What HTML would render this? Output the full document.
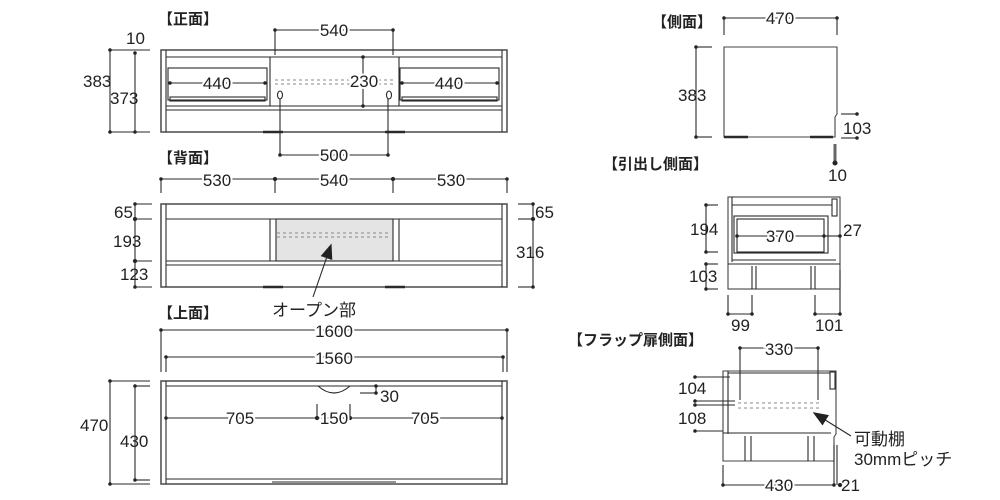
<!DOCTYPE html><html><head><meta charset="utf-8"><style>body{margin:0;background:#fff}svg{display:block}text{font-family:"Liberation Sans","Noto Sans CJK JP",sans-serif;fill:#222}</style></head><body>
<svg width="1000" height="500" viewBox="0 0 1000 500" xmlns="http://www.w3.org/2000/svg">
<defs><marker id="d" viewBox="0 0 4 4" refX="2" refY="2" markerWidth="4" markerHeight="4"><circle cx="2" cy="2" r="1.6" fill="#222"/></marker>
<marker id="a" viewBox="0 0 10 10" refX="9" refY="5" markerWidth="14" markerHeight="14" orient="auto"><path d="M0,1 L10,5 L0,9 z" fill="#222"/></marker></defs>
<g stroke="#2a2a2a" stroke-width="1.1" fill="none">
<!-- FRONT -->
<rect x="161" y="50" width="346" height="82" stroke="#555" stroke-width="1.6"/>
<line x1="166" y1="50" x2="166" y2="132"/><line x1="502" y1="50" x2="502" y2="132"/>
<line x1="166" y1="57" x2="502" y2="57"/>
<rect x="168" y="68" width="99" height="32"/><rect x="170" y="97" width="95" height="4"/>
<rect x="400" y="68" width="99" height="32"/><rect x="402" y="97" width="95" height="4"/>
<line x1="270" y1="57" x2="270" y2="106"/><line x1="399" y1="57" x2="399" y2="106"/>
<line x1="166" y1="106" x2="502" y2="106"/><line x1="166" y1="110" x2="502" y2="110"/>
<line x1="263" y1="132" x2="283" y2="132" stroke-width="2.5"/><line x1="385" y1="132" x2="405" y2="132" stroke-width="2.5"/>
<line x1="275" y1="80" x2="350" y2="80" stroke-dasharray="3,3" stroke="#888"/><line x1="275" y1="84" x2="350" y2="84" stroke-dasharray="3,3" stroke="#888"/>
<line x1="378" y1="80" x2="393" y2="80" stroke-dasharray="3,3" stroke="#888"/><line x1="378" y1="84" x2="393" y2="84" stroke-dasharray="3,3" stroke="#888"/>
<ellipse cx="280" cy="95" rx="2.5" ry="4"/><ellipse cx="389" cy="95" rx="2.5" ry="4"/>
<line x1="275" y1="30" x2="275" y2="55"/><line x1="393" y1="30" x2="393" y2="55"/>
<line x1="275" y1="30" x2="393" y2="30" marker-start="url(#d)" marker-end="url(#d)"/>
<line x1="363" y1="57" x2="363" y2="106" marker-start="url(#d)" marker-end="url(#d)"/>
<line x1="170" y1="83" x2="265" y2="83" marker-start="url(#d)" marker-end="url(#d)"/>
<line x1="402" y1="83" x2="497" y2="83" marker-start="url(#d)" marker-end="url(#d)"/>
<line x1="280" y1="99" x2="280" y2="155"/><line x1="388" y1="99" x2="388" y2="155"/>
<line x1="280" y1="155" x2="388" y2="155" marker-start="url(#d)" marker-end="url(#d)"/>
<line x1="110" y1="50" x2="110" y2="132" marker-start="url(#d)" marker-end="url(#d)"/>
<line x1="135" y1="53" x2="135" y2="132" marker-start="url(#d)" marker-end="url(#d)"/>
<line x1="110" y1="50" x2="150" y2="50"/><line x1="110" y1="132" x2="150" y2="132"/>
<!-- BACK -->
<rect x="161" y="204" width="346" height="83" stroke="#555" stroke-width="1.6"/>
<line x1="166" y1="204" x2="166" y2="287"/><line x1="502" y1="204" x2="502" y2="287"/>
<line x1="166" y1="219" x2="502" y2="219"/><line x1="166" y1="261" x2="502" y2="261"/><line x1="166" y1="265" x2="502" y2="265"/>
<rect x="276" y="219" width="117" height="42" fill="#e4e4e4"/>
<line x1="270" y1="219" x2="270" y2="261"/><line x1="399" y1="219" x2="399" y2="261"/>
<line x1="277" y1="233" x2="390" y2="233" stroke-dasharray="3,3" stroke="#888"/><line x1="277" y1="237" x2="390" y2="237" stroke-dasharray="3,3" stroke="#888"/>
<line x1="263" y1="287" x2="283" y2="287" stroke-width="2.5"/><line x1="385" y1="287" x2="405" y2="287" stroke-width="2.5"/>
<line x1="161" y1="179" x2="507" y2="179" marker-start="url(#d)" marker-end="url(#d)"/>
<line x1="275" y1="179" x2="275" y2="193"/><line x1="393" y1="179" x2="393" y2="193"/><line x1="161" y1="179" x2="161" y2="193"/><line x1="507" y1="179" x2="507" y2="193"/>
<circle cx="275" cy="179" r="1.6" fill="#222"/><circle cx="393" cy="179" r="1.6" fill="#222"/>
<line x1="135" y1="204" x2="135" y2="287" marker-start="url(#d)" marker-end="url(#d)"/>
<circle cx="135" cy="219" r="1.6" fill="#222"/><circle cx="135" cy="261" r="1.6" fill="#222"/>
<line x1="135" y1="204" x2="152" y2="204"/><line x1="135" y1="219" x2="152" y2="219"/><line x1="135" y1="261" x2="152" y2="261"/><line x1="135" y1="287" x2="152" y2="287"/>
<line x1="533" y1="204" x2="533" y2="287" marker-start="url(#d)" marker-end="url(#d)"/><circle cx="533" cy="219" r="1.6" fill="#222"/>
<line x1="518" y1="204" x2="533" y2="204"/><line x1="518" y1="219" x2="533" y2="219"/><line x1="518" y1="287" x2="533" y2="287"/>
<line x1="313" y1="297" x2="331" y2="245" marker-end="url(#a)"/>
<!-- TOP -->
<rect x="161" y="381" width="346" height="103" stroke="#555" stroke-width="1.6"/>
<line x1="166" y1="381" x2="166" y2="484"/><line x1="502" y1="381" x2="502" y2="484"/>
<line x1="166" y1="386" x2="502" y2="386"/><line x1="166" y1="479" x2="502" y2="479"/><line x1="272" y1="482" x2="396" y2="482"/>
<path d="M318,386 Q334,400 350,386"/>
<line x1="161" y1="330" x2="507" y2="330" marker-start="url(#d)" marker-end="url(#d)"/>
<line x1="161" y1="330" x2="161" y2="372"/><line x1="507" y1="330" x2="507" y2="372"/>
<line x1="166" y1="357" x2="503" y2="357" marker-start="url(#d)" marker-end="url(#d)"/>
<line x1="166" y1="357" x2="166" y2="372"/><line x1="503" y1="357" x2="503" y2="372"/>
<line x1="110" y1="381" x2="110" y2="484" marker-start="url(#d)" marker-end="url(#d)"/>
<line x1="135" y1="386" x2="135" y2="480" marker-start="url(#d)" marker-end="url(#d)"/>
<line x1="110" y1="381" x2="150" y2="381"/><line x1="135" y1="386" x2="150" y2="386"/><line x1="135" y1="480" x2="150" y2="480"/><line x1="110" y1="484" x2="150" y2="484"/>
<line x1="166" y1="418" x2="502" y2="418" marker-start="url(#d)" marker-end="url(#d)"/>
<line x1="317" y1="404" x2="317" y2="418"/><line x1="350" y1="404" x2="350" y2="418"/>
<circle cx="317" cy="418" r="1.6" fill="#222"/><circle cx="350" cy="418" r="1.6" fill="#222"/>
<line x1="360" y1="386" x2="376" y2="386"/><line x1="360" y1="393" x2="376" y2="393"/><line x1="376" y1="386" x2="376" y2="393" marker-start="url(#d)" marker-end="url(#d)"/>
<!-- SIDE -->
<path d="M724,47 H837 V114 L835,117 V137 H724 Z" stroke="#444"/>
<line x1="724" y1="137" x2="748" y2="137" stroke-width="2.5"/><line x1="810" y1="137" x2="833" y2="137" stroke-width="2.5"/>
<line x1="724" y1="18" x2="837" y2="18" marker-start="url(#d)" marker-end="url(#d)"/>
<line x1="724" y1="18" x2="724" y2="35"/><line x1="837" y1="18" x2="837" y2="35"/>
<line x1="696" y1="47" x2="696" y2="137" marker-start="url(#d)" marker-end="url(#d)"/>
<line x1="696" y1="47" x2="712" y2="47"/><line x1="696" y1="137" x2="712" y2="137"/>
<line x1="841" y1="114" x2="857" y2="114" marker-end="url(#d)"/><line x1="841" y1="138" x2="857" y2="138" marker-end="url(#d)"/>
<line x1="835" y1="144" x2="835" y2="163" stroke-width="3" stroke="#666"/><circle cx="835" cy="163" r="2" fill="#222"/>
<!-- DRAWER SIDE -->
<rect x="728" y="197" width="112" height="92" stroke="#444"/>
<line x1="732" y1="197" x2="732" y2="262"/><line x1="732" y1="205" x2="832" y2="205"/>
<rect x="832" y="199" width="5" height="17"/>
<rect x="734" y="216" width="94" height="37"/><rect x="737" y="219" width="87" height="33"/>
<line x1="732" y1="260" x2="836" y2="260"/><line x1="728" y1="264" x2="840" y2="264"/>
<line x1="752" y1="266" x2="752" y2="289"/><line x1="756" y1="266" x2="756" y2="289"/>
<line x1="811" y1="266" x2="811" y2="289"/><line x1="815" y1="266" x2="815" y2="289"/>
<line x1="737" y1="236" x2="824" y2="236" marker-start="url(#d)" marker-end="url(#d)"/>
<line x1="824" y1="236" x2="840" y2="236" marker-end="url(#d)"/>
<line x1="706" y1="205" x2="706" y2="252" marker-start="url(#d)" marker-end="url(#d)"/>
<line x1="706" y1="205" x2="718" y2="205"/><line x1="706" y1="252" x2="718" y2="252"/>
<line x1="706" y1="264" x2="706" y2="289" marker-start="url(#d)" marker-end="url(#d)"/>
<line x1="706" y1="264" x2="718" y2="264"/><line x1="706" y1="289" x2="718" y2="289"/>
<line x1="728" y1="295" x2="728" y2="314"/><line x1="752" y1="295" x2="752" y2="314"/>
<line x1="728" y1="314" x2="752" y2="314" marker-start="url(#d)" marker-end="url(#d)"/>
<line x1="815" y1="295" x2="815" y2="314"/><line x1="840" y1="270" x2="840" y2="314"/>
<line x1="815" y1="314" x2="840" y2="314" marker-start="url(#d)" marker-end="url(#d)"/>
<!-- FLAP SIDE -->
<path d="M723,371 H836 V434 L834,437 V461 H723 Z" stroke="#444"/>
<line x1="728" y1="371" x2="728" y2="434"/><line x1="728" y1="373" x2="830" y2="373"/>
<rect x="830" y="372" width="5" height="17"/>
<line x1="723" y1="433" x2="831" y2="433"/>
<line x1="745" y1="436" x2="745" y2="461"/><line x1="751" y1="436" x2="751" y2="461"/>
<line x1="808" y1="436" x2="808" y2="461"/><line x1="814" y1="436" x2="814" y2="461"/>
<line x1="738" y1="403" x2="820" y2="403" stroke-dasharray="3,3" stroke="#888"/><line x1="738" y1="408" x2="820" y2="408" stroke-dasharray="3,3" stroke="#888"/>
<line x1="740" y1="348" x2="740" y2="400"/><line x1="818" y1="348" x2="818" y2="400"/>
<line x1="740" y1="348" x2="818" y2="348" marker-start="url(#d)" marker-end="url(#d)"/>
<line x1="695" y1="377" x2="730" y2="377" marker-start="url(#d)"/><line x1="695" y1="401" x2="735" y2="401" marker-start="url(#d)"/><line x1="695" y1="405" x2="735" y2="405" marker-start="url(#d)"/><line x1="695" y1="431" x2="723" y2="431" marker-start="url(#d)"/>
<line x1="851" y1="436" x2="814" y2="413" marker-end="url(#a)"/>
<line x1="723" y1="465" x2="723" y2="485"/><line x1="834" y1="445" x2="834" y2="485"/><line x1="837" y1="445" x2="837" y2="485"/>
<line x1="723" y1="485" x2="834" y2="485" marker-start="url(#d)" marker-end="url(#d)"/><circle cx="840" cy="485" r="1.6" fill="#222"/>
</g>
<g font-size="17">
<text x="158" y="24" font-size="15" font-weight="bold">【正面】</text>
<text x="158" y="163" font-size="15" font-weight="bold">【背面】</text>
<text x="158" y="318" font-size="15" font-weight="bold">【上面】</text>
<text x="652" y="27" font-size="15" font-weight="bold">【側面】</text>
<text x="603" y="169" font-size="15" font-weight="bold">【引出し側面】</text>
<text x="568" y="345" font-size="15" font-weight="bold">【フラップ扉側面】</text>
<g text-anchor="middle" paint-order="stroke" stroke="#fff" stroke-width="4">
<text x="334" y="36">540</text><text x="364" y="87">230</text><text x="217" y="89">440</text><text x="449" y="89">440</text>
<text x="334" y="161">500</text><text x="217" y="186">530</text><text x="334" y="186">540</text><text x="451" y="186">530</text>
<text x="334" y="337">1600</text><text x="334" y="364">1560</text>
<text x="240" y="424">705</text><text x="334" y="424">150</text><text x="425" y="424">705</text>
<text x="780" y="24">470</text><text x="780" y="242">370</text><text x="779" y="355">330</text><text x="779" y="491">430</text>
</g>
<text x="126" y="44">10</text><text x="83" y="87">383</text><text x="110" y="104">373</text>
<text x="114" y="218">65</text><text x="113" y="247">193</text><text x="120" y="280">123</text>
<text x="535" y="218">65</text><text x="516" y="258">316</text>
<text x="272" y="316">オープン部</text>
<text x="380" y="402">30</text>
<text x="80" y="431">470</text><text x="120" y="447">430</text>
<text x="678" y="101">383</text><text x="843" y="134">103</text><text x="828" y="181">10</text>
<text x="690" y="235">194</text><text x="843" y="236">27</text><text x="689" y="282">103</text>
<text x="731" y="331">99</text><text x="815" y="331">101</text>
<text x="678" y="394">104</text><text x="678" y="424">108</text>
<text x="854" y="445">可動棚</text><text x="854" y="465">30mmピッチ</text>
<text x="841" y="491">21</text>
</g>
</svg></body></html>
